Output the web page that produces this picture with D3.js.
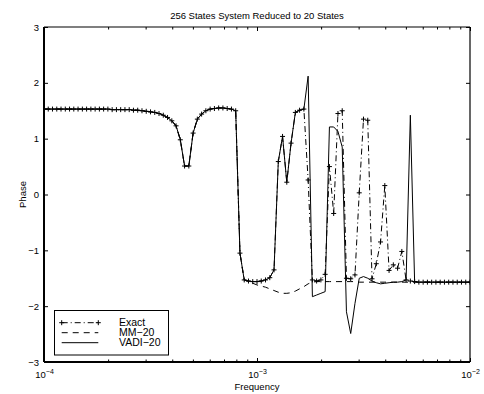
<!DOCTYPE html>
<html>
<head>
<meta charset="utf-8">
<script src="https://cdn.jsdelivr.net/npm/d3@7"></script>
<style>
  body { margin: 0; background: #fff; }
  text { font-family: "Liberation Sans", Arial, sans-serif; fill: #000; }
</style>
</head>
<body>
<div id="chart"></div>
<script>
// frequency grid (101 log-spaced samples, 1e-4 .. 1e-2)
var freq = [
  1.000e-4, 1.047e-4, 1.096e-4, 1.148e-4, 1.202e-4, 1.259e-4, 1.318e-4, 1.380e-4, 1.445e-4, 1.514e-4,
  1.585e-4, 1.660e-4, 1.738e-4, 1.820e-4, 1.905e-4, 1.995e-4, 2.089e-4, 2.188e-4, 2.291e-4, 2.399e-4,
  2.512e-4, 2.630e-4, 2.754e-4, 2.884e-4, 3.020e-4, 3.162e-4, 3.311e-4, 3.467e-4, 3.631e-4, 3.802e-4,
  3.981e-4, 4.169e-4, 4.365e-4, 4.571e-4, 4.786e-4, 5.012e-4, 5.248e-4, 5.495e-4, 5.754e-4, 6.026e-4,
  6.310e-4, 6.607e-4, 6.918e-4, 7.244e-4, 7.586e-4, 7.943e-4, 8.318e-4, 8.710e-4, 9.120e-4, 9.550e-4,
  1.000e-3, 1.047e-3, 1.096e-3, 1.148e-3, 1.202e-3, 1.259e-3, 1.318e-3, 1.380e-3, 1.445e-3, 1.514e-3,
  1.585e-3, 1.660e-3, 1.738e-3, 1.820e-3, 1.905e-3, 1.995e-3, 2.089e-3, 2.188e-3, 2.291e-3, 2.399e-3,
  2.512e-3, 2.630e-3, 2.754e-3, 2.884e-3, 3.020e-3, 3.162e-3, 3.311e-3, 3.467e-3, 3.631e-3, 3.802e-3,
  3.981e-3, 4.169e-3, 4.365e-3, 4.571e-3, 4.786e-3, 5.012e-3, 5.248e-3, 5.495e-3, 5.754e-3, 6.026e-3,
  6.310e-3, 6.607e-3, 6.918e-3, 7.244e-3, 7.586e-3, 7.943e-3, 8.318e-3, 8.710e-3, 9.120e-3, 9.550e-3,
  1.000e-2
];

var exact = [
  1.53, 1.53, 1.53, 1.53, 1.53, 1.53, 1.53, 1.53, 1.53, 1.53,
  1.53, 1.53, 1.53, 1.53, 1.53, 1.53, 1.52, 1.52, 1.52, 1.52,
  1.52, 1.51, 1.51, 1.50, 1.49, 1.48, 1.47, 1.45, 1.42, 1.38,
  1.32, 1.23, 0.98, 0.51, 0.51, 1.10, 1.35, 1.44, 1.50, 1.53,
  1.54, 1.55, 1.55, 1.54, 1.53, 1.50, -1.05, -1.53, -1.55, -1.56,
  -1.56, -1.55, -1.53, -1.49, -1.35, 0.59, 1.04, 0.22, 0.92, 1.47,
  1.51, 1.53, 0.26, -1.53, -1.55, -1.53, -1.43, 0.50, -0.34, 1.45,
  1.50, -1.50, -1.51, -1.44, 0.03, 1.35, 1.33, -1.51, -1.24, -0.85,
  0.16, -1.36, -1.26, -1.32, -1.02, -1.53, -1.55, -1.56, -1.57, -1.57,
  -1.57, -1.57, -1.57, -1.57, -1.57, -1.57, -1.57, -1.57, -1.57, -1.57,
  -1.57
];

var mm20 = [
  1.53, 1.53, 1.53, 1.53, 1.53, 1.53, 1.53, 1.53, 1.53, 1.53,
  1.53, 1.53, 1.53, 1.53, 1.53, 1.53, 1.52, 1.52, 1.52, 1.52,
  1.52, 1.51, 1.51, 1.50, 1.49, 1.48, 1.47, 1.45, 1.42, 1.38,
  1.32, 1.23, 0.98, 0.51, 0.51, 1.10, 1.35, 1.44, 1.50, 1.53,
  1.54, 1.55, 1.55, 1.54, 1.53, 1.50, -1.05, -1.53, -1.56, -1.59,
  -1.62, -1.64, -1.66, -1.69, -1.72, -1.75, -1.77, -1.77, -1.76, -1.73,
  -1.69, -1.65, -1.60, -1.57, -1.56, -1.56, -1.56, -1.56, -1.56, -1.56,
  -1.56, -1.56, -1.56, -1.56, -1.57, -1.57, -1.57, -1.57, -1.57, -1.57,
  -1.57, -1.57, -1.57, -1.57, -1.57, -1.57, -1.57, -1.57, -1.57, -1.57,
  -1.57, -1.57, -1.57, -1.57, -1.57, -1.57, -1.57, -1.57, -1.57, -1.57,
  -1.57
];

var vadi20 = [
  1.53, 1.53, 1.53, 1.53, 1.53, 1.53, 1.53, 1.53, 1.53, 1.53,
  1.53, 1.53, 1.53, 1.53, 1.53, 1.53, 1.52, 1.52, 1.52, 1.52,
  1.52, 1.51, 1.51, 1.50, 1.49, 1.48, 1.47, 1.45, 1.42, 1.38,
  1.32, 1.23, 0.98, 0.51, 0.51, 1.10, 1.35, 1.44, 1.50, 1.53,
  1.54, 1.55, 1.55, 1.54, 1.53, 1.50, -1.05, -1.53, -1.55, -1.56,
  -1.56, -1.55, -1.53, -1.49, -1.35, 0.59, 1.04, 0.22, 0.92, 1.47,
  1.51, 1.53, 2.12, -1.83, -1.80, -1.77, -1.74, 1.21, 1.21, 1.13,
  0.85, -2.10, -2.49, -1.95, -1.50, -1.47, -1.50, -1.55, -1.58, -1.60,
  -1.59, -1.58, -1.57, -1.57, -1.56, -1.53, 1.42, -1.56, -1.57, -1.57,
  -1.57, -1.57, -1.57, -1.57, -1.57, -1.57, -1.57, -1.57, -1.57, -1.57,
  -1.57
];

var xMajor = [1e-4, 1e-3, 1e-2];
var yTicks = [-3, -2, -1, 0, 1, 2, 3];
var legendNames = ["Exact", "MM\u221220", "VADI\u221220"];

var width = 484, height = 394,
    plotL = 44, plotR = 470, plotT = 27, plotB = 362;

var svg = d3.select("#chart").append("svg")
    .attr("width", width)
    .attr("height", height);

var x = d3.scaleLog().domain([1e-4, 1e-2]).range([plotL, plotR]);
var y = d3.scaleLinear().domain([-3, 3]).range([plotB, plotT]);

var xMinor = x.ticks().filter(function(t) {
  return xMajor.every(function(m) { return Math.abs(t / m - 1) > 1e-6; });
});

// ticks (all pointing inward)
function noDomain(g) { g.select(".domain").remove(); }

svg.append("g").attr("transform", "translate(0," + plotB + ")")
    .call(d3.axisBottom(x).tickValues(xMinor).tickSize(-2.5).tickFormat(""))
    .call(noDomain);
svg.append("g").attr("transform", "translate(0," + plotT + ")")
    .call(d3.axisTop(x).tickValues(xMinor).tickSize(-2.5).tickFormat(""))
    .call(noDomain);
svg.append("g").attr("transform", "translate(0," + plotT + ")")
    .call(d3.axisTop(x).tickValues(xMajor).tickSize(-4).tickFormat(""))
    .call(noDomain);

var xAxis = svg.append("g").attr("transform", "translate(0," + plotB + ")")
    .call(d3.axisBottom(x).tickValues(xMajor).tickSize(-4).tickPadding(9)
      .tickFormat(function() { return ""; }))
    .call(noDomain);
xAxis.selectAll(".tick text").each(function(d) {
  var t = d3.select(this).attr("font-size", 9.5);
  t.append("tspan").text("10");
  t.append("tspan").attr("dy", "-0.55em").attr("font-size", 7)
    .text("\u2212" + Math.round(-Math.log10(d)));
});

svg.append("g").attr("transform", "translate(" + plotL + ",0)")
    .call(d3.axisLeft(y).tickValues(yTicks).tickSize(-4).tickPadding(5)
      .tickFormat(d3.format("d")))
    .call(noDomain)
    .selectAll("text").attr("font-size", 9.5);
svg.append("g").attr("transform", "translate(" + plotR + ",0)")
    .call(d3.axisRight(y).tickValues(yTicks).tickSize(-4).tickFormat(""))
    .call(noDomain);

svg.selectAll(".tick line").attr("stroke", "#000");
svg.selectAll(".tick text").attr("font-family", null);

// axes box
svg.append("line").attr("x1", plotL).attr("x2", plotR).attr("y1", plotT).attr("y2", plotT)
    .attr("stroke", "#000").attr("stroke-width", 1.2);
svg.append("line").attr("x1", plotR).attr("x2", plotR).attr("y1", plotT).attr("y2", plotB)
    .attr("stroke", "#000").attr("stroke-width", 1.2);
svg.append("line").attr("x1", plotL).attr("x2", plotR).attr("y1", plotB).attr("y2", plotB)
    .attr("stroke", "#000").attr("stroke-width", 2);
svg.append("line").attr("x1", plotL).attr("x2", plotL).attr("y1", plotT).attr("y2", plotB)
    .attr("stroke", "#000").attr("stroke-width", 2);

// series
svg.append("clipPath").attr("id", "clip").append("rect")
    .attr("x", plotL).attr("y", plotT).attr("width", plotR - plotL).attr("height", plotB - plotT);

function rows(vals) {
  return freq.map(function(f, i) { return { f: f, v: vals[i] }; });
}
var line = d3.line()
    .x(function(d) { return x(d.f); })
    .y(function(d) { return y(d.v); });

var plot = svg.append("g").attr("clip-path", "url(#clip)");

var styles = [
  { data: exact, dash: "6,3,1,3" },
  { data: mm20, dash: "6,5" },
  { data: vadi20, dash: null }
];

styles.forEach(function(s) {
  plot.append("path")
      .datum(rows(s.data))
      .attr("fill", "none")
      .attr("stroke", "#000")
      .attr("stroke-width", 1)
      .attr("stroke-dasharray", s.dash)
      .attr("d", line);
});

function plusPath(cx, cy) {
  return "M" + (cx - 2.5) + "," + cy + "H" + (cx + 2.5) + "M" + cx + "," + (cy - 2.5) + "V" + (cy + 2.5);
}
plot.selectAll("path.mark")
    .data(rows(exact))
    .enter().append("path")
    .attr("class", "mark")
    .attr("d", function(d) { return plusPath(x(d.f), y(d.v)); })
    .attr("stroke", "#000").attr("stroke-width", 1).attr("fill", "none");

// labels
svg.append("text").attr("x", (plotL + plotR) / 2).attr("y", 18.5)
    .attr("text-anchor", "middle").attr("font-size", 9.5)
    .text("256 States System Reduced to 20 States");
svg.append("text").attr("x", (plotL + plotR) / 2).attr("y", 389.5)
    .attr("text-anchor", "middle").attr("font-size", 9.5)
    .text("Frequency");
svg.append("text")
    .attr("transform", "translate(26," + y(0) + ") rotate(-90)")
    .attr("text-anchor", "middle").attr("font-size", 9.5)
    .text("Phase");

// legend
var lg = svg.append("g");
lg.append("rect").attr("x", 54.5).attr("y", 310.5).attr("width", 114).attr("height", 44.5)
    .attr("fill", "#fff").attr("stroke", "#000").attr("stroke-width", 1);

styles.forEach(function(s, i) {
  var ly = 322.7 + i * 10;
  lg.append("line").attr("x1", 61.7).attr("x2", 98.3).attr("y1", ly).attr("y2", ly)
      .attr("stroke", "#000").attr("stroke-width", 1).attr("stroke-dasharray", s.dash);
  lg.append("text").attr("x", 119).attr("y", ly).attr("dy", "0.36em")
      .attr("font-size", 10.5).text(legendNames[i]);
});
lg.append("path").attr("d", plusPath(61.7, 322.7) + plusPath(98.3, 322.7))
    .attr("stroke", "#000").attr("stroke-width", 1).attr("fill", "none");
</script>
</body>
</html>
